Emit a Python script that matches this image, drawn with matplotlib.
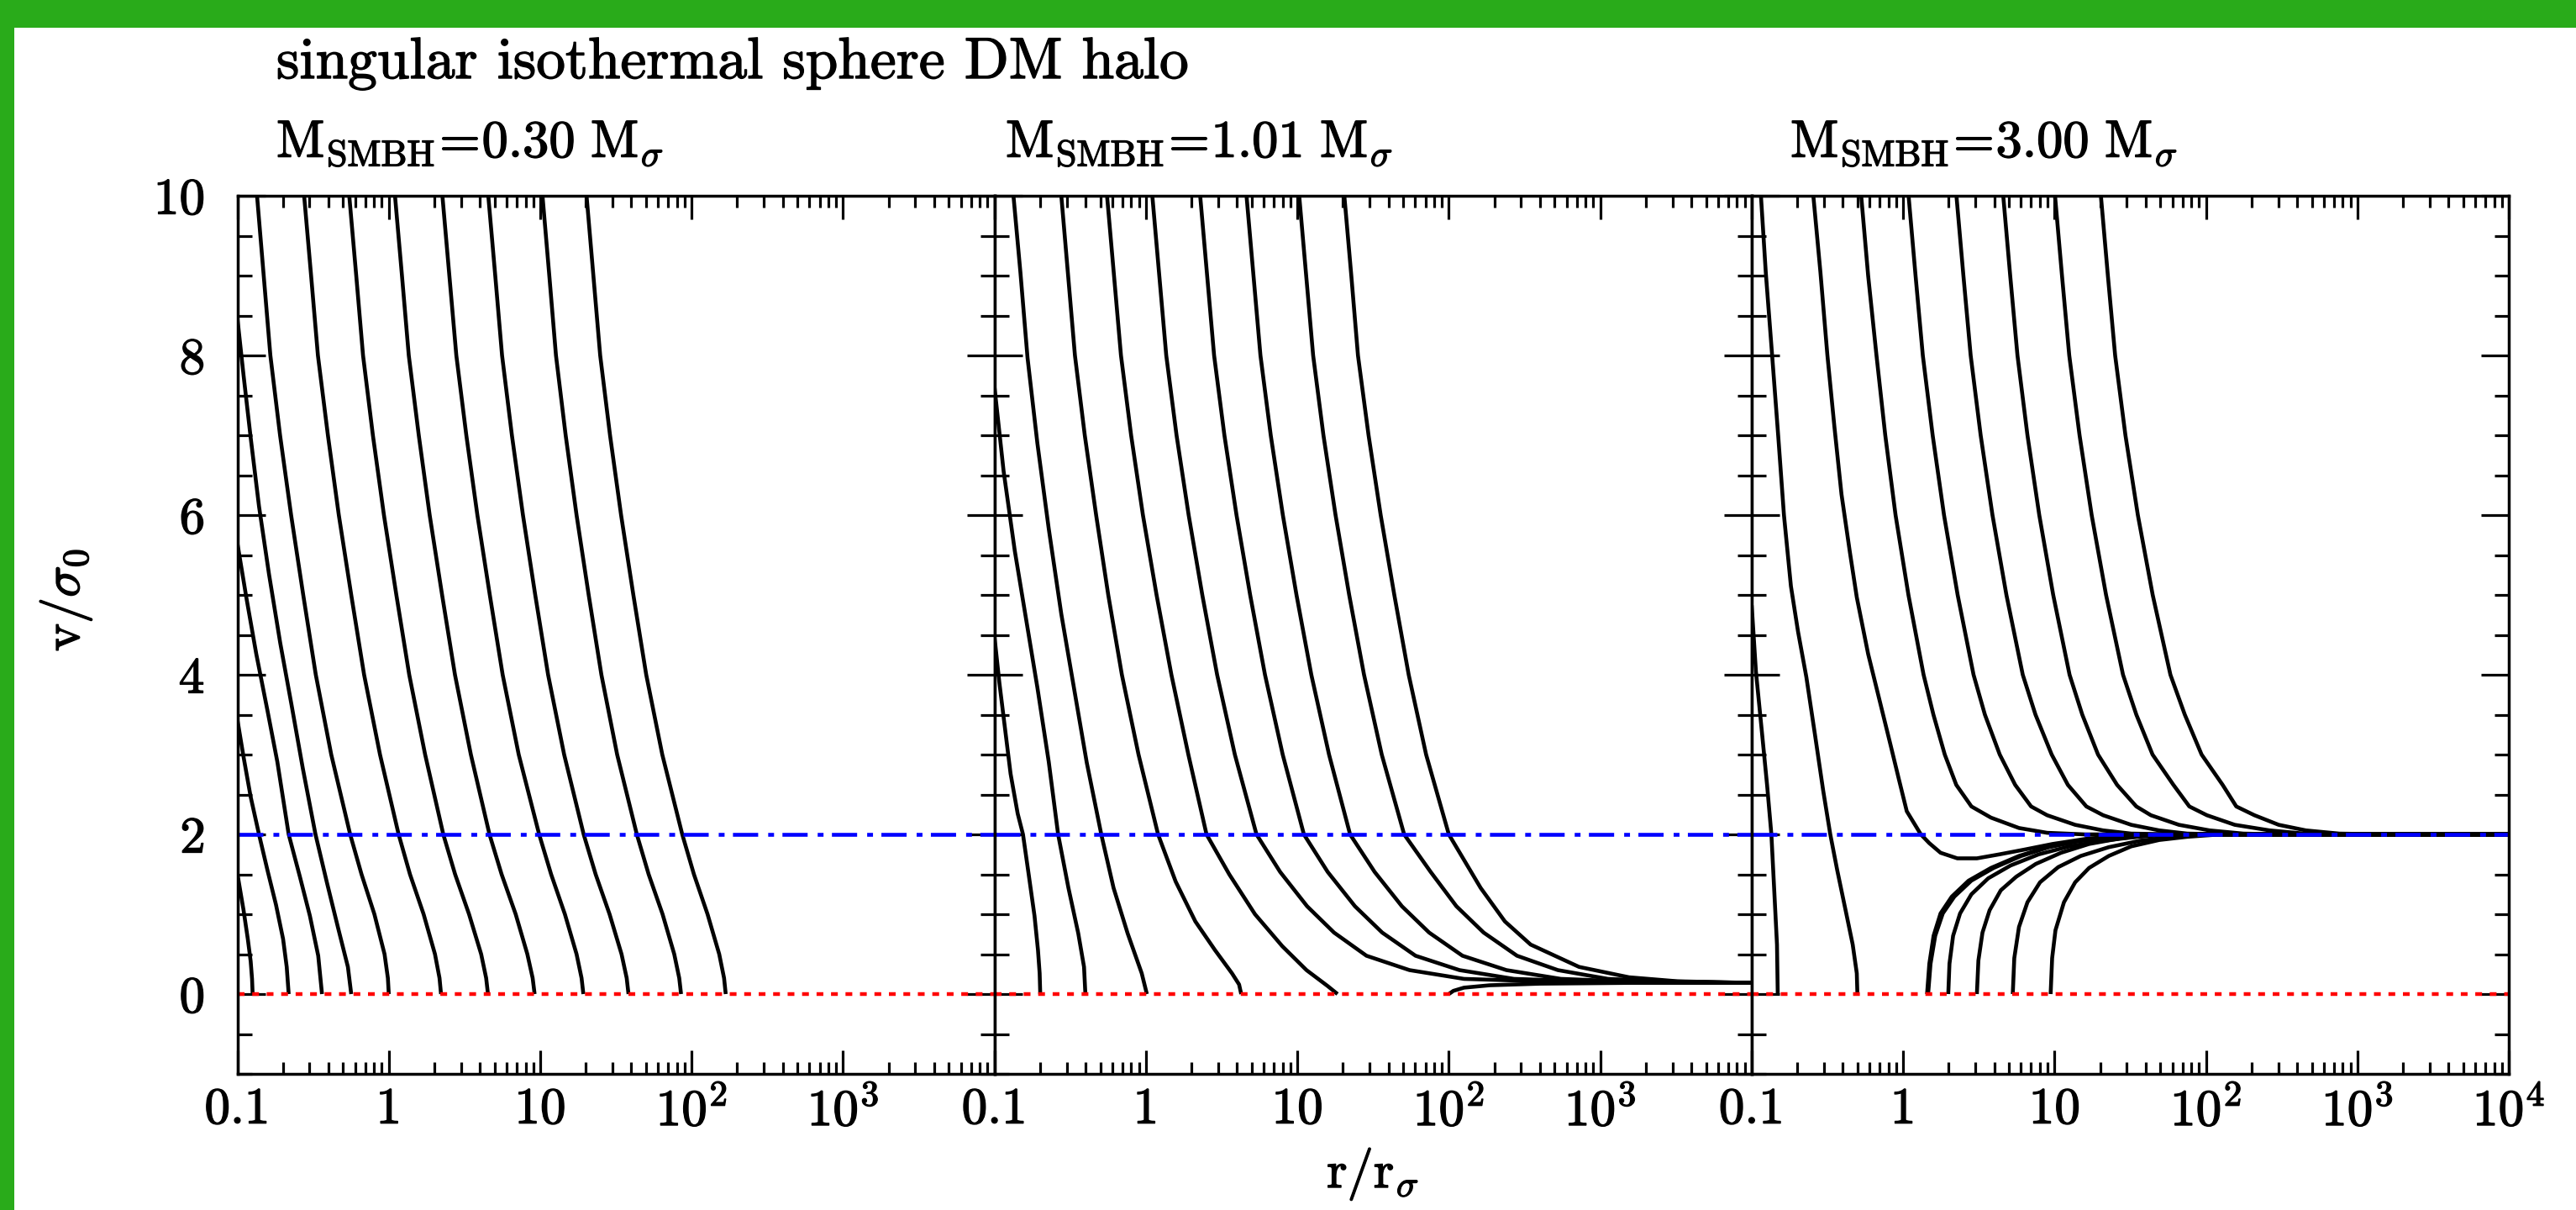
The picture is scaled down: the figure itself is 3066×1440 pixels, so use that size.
import numpy as np
import matplotlib
matplotlib.use("Agg")
import matplotlib.pyplot as plt
import matplotlib.patheffects as pe
from matplotlib.patches import Rectangle
from matplotlib.ticker import FixedLocator, FixedFormatter, NullFormatter, LogLocator, MultipleLocator

plt.rcParams['font.family'] = 'serif'
plt.rcParams['font.serif'] = ['cmr10', 'DejaVu Serif']
plt.rcParams['mathtext.fontset'] = 'cm'
plt.rcParams['axes.formatter.use_mathtext'] = True
plt.rcParams['lines.scale_dashes'] = False

# ---------------- data (log10 r / r_sigma , v / sigma_0) ----------------
panel_titles = [r'$\mathrm{M_{SMBH}\!=\!0.30\ M_{\sigma}}$',
                r'$\mathrm{M_{SMBH}\!=\!1.01\ M_{\sigma}}$',
                r'$\mathrm{M_{SMBH}\!=\!3.00\ M_{\sigma}}$']
title = 'singular isothermal sphere DM halo'
xtick_vals = [0.1, 1, 10, 100, 1000, 10000]
xtick_labels = ['0.1', '1', '10', r'$10^2$', r'$10^3$', r'$10^4$']
ytick_vals = [0, 2, 4, 6, 8, 10]
v_esc_level = 2.0
v_zero_level = 0.0

# Panel 1 : M_SMBH = 0.30
p1_L1_lx = [-1.0, -0.959, -0.931, -0.912, -0.903, -0.899]
p1_L1_v = [1.51, 1.05, 0.69, 0.41, 0.19, 0.0]
p1_L2_lx = [-1.0, -0.959, -0.912, -0.857, -0.801, -0.745, -0.698, -0.674, -0.661]
p1_L2_v = [3.44, 2.97, 2.47, 2.0, 1.55, 1.12, 0.69, 0.34, 0.0]
p1_L3_lx = [-1.0, -0.940, -0.875, -0.801, -0.736, -0.661, -0.587, -0.521, -0.466, -0.441]
p1_L3_v = [5.65, 4.96, 4.26, 3.55, 2.91, 2.0, 1.47, 0.98, 0.48, 0.0]
p1_L4_lx = [-1.0, -0.959, -0.912, -0.857, -0.791, -0.717, -0.642, -0.568, -0.484, -0.409, -0.335, -0.270, -0.248]
p1_L4_v = [8.47, 7.75, 6.97, 6.11, 5.26, 4.40, 3.62, 2.83, 2.0, 1.40, 0.83, 0.34, 0.0]
p1_T_v = [10, 9, 8, 7, 6, 5, 4, 3, 2, 1.5, 1, 0.5, 0.2, 0]
p1_T1_lx = [-0.870, -0.826, -0.782, -0.718, -0.645, -0.565, -0.482, -0.380, -0.255, -0.180, -0.095, -0.028, -0.006, 0.000]
p1_T2_lx = [-0.559, -0.513, -0.468, -0.402, -0.330, -0.248, -0.163, -0.058, 0.065, 0.140, 0.230, 0.305, 0.335, 0.345]
p1_T3_lx = [-0.261, -0.215, -0.170, -0.105, -0.032, 0.050, 0.135, 0.240, 0.360, 0.438, 0.530, 0.610, 0.643, 0.655]
p1_T4_lx = [0.041, 0.087, 0.132, 0.198, 0.270, 0.352, 0.437, 0.542, 0.665, 0.745, 0.838, 0.915, 0.950, 0.963]
p1_T5_lx = [0.354, 0.400, 0.446, 0.512, 0.585, 0.667, 0.752, 0.858, 0.993, 1.072, 1.163, 1.240, 1.273, 1.285]
p1_T6_lx = [0.657, 0.703, 0.748, 0.813, 0.886, 0.967, 1.052, 1.158, 1.287, 1.366, 1.458, 1.537, 1.571, 1.583]
p1_T7_lx = [1.015, 1.060, 1.104, 1.168, 1.240, 1.320, 1.404, 1.508, 1.638, 1.716, 1.808, 1.885, 1.918, 1.930]
p1_T8_lx = [1.306, 1.351, 1.396, 1.461, 1.534, 1.615, 1.700, 1.806, 1.938, 2.015, 2.105, 2.182, 2.214, 2.225]

# Panel 2 : M_SMBH = 1.01
p2_L1_lx = [-1.0, -0.968, -0.931, -0.894, -0.847, -0.812, -0.773, -0.736, -0.713, -0.702, -0.698]
p2_L1_v = [4.47, 3.90, 3.33, 2.76, 2.26, 2.0, 1.48, 0.98, 0.55, 0.26, 0.0]
p2_L2_lx = [-1.0, -0.940, -0.866, -0.791, -0.717, -0.642, -0.580, -0.512, -0.447, -0.409, -0.400]
p2_L2_v = [7.60, 6.55, 5.55, 4.69, 3.84, 2.91, 2.0, 1.33, 0.76, 0.34, 0.0]
p2_T1_v = [10, 9.04, 7.97, 6.90, 5.83, 4.76, 3.83, 2.90, 2.0, 1.33, 0.76, 0.26, 0]
p2_T1_lx = [-0.875, -0.829, -0.782, -0.717, -0.642, -0.559, -0.475, -0.391, -0.295, -0.214, -0.121, -0.028, 0.006]
p2_T2_v = [10, 9, 8, 7, 6, 5, 4, 3, 2, 1.41, 0.91, 0.55, 0.26, 0.12, 0]
p2_T2_lx = [-0.559, -0.514, -0.469, -0.404, -0.329, -0.249, -0.159, -0.049, 0.080, 0.196, 0.326, 0.456, 0.568, 0.615, 0.629]
p2_T3_v = [10, 9, 8, 7, 6, 5, 4, 3, 2, 1.5, 1.0, 0.6, 0.3, 0.1, 0]
p2_T3_lx = [-0.257, -0.211, -0.165, -0.098, -0.020, 0.070, 0.168, 0.280, 0.400, 0.55, 0.72, 0.90, 1.06, 1.20, 1.265]
p2_Tb_v = [10, 9, 8, 7, 6, 5, 4, 3, 2, 1.53, 1.10, 0.77, 0.48, 0.30, 0.19, 0.16, 0.14]
p2_T4_lx = [0.042, 0.088, 0.134, 0.202, 0.282, 0.372, 0.470, 0.587, 0.730, 0.886, 1.064, 1.242, 1.456, 1.74, 2.10, 2.6, 4.0]
p2_T5_lx = [0.358, 0.404, 0.450, 0.518, 0.598, 0.688, 0.786, 0.903, 1.043, 1.20, 1.38, 1.56, 1.78, 2.07, 2.43, 2.9, 4.0]
p2_T6_lx = [0.664, 0.710, 0.756, 0.824, 0.904, 0.994, 1.092, 1.209, 1.348, 1.51, 1.69, 1.87, 2.09, 2.38, 2.74, 3.15, 4.0]
p2_T7_lx = [1.012, 1.058, 1.104, 1.172, 1.252, 1.342, 1.440, 1.557, 1.705, 1.88, 2.05, 2.23, 2.45, 2.72, 3.05, 3.4, 4.0]
p2_T8_v = [10, 9, 8, 7, 6, 5, 4, 3, 2, 1.33, 0.91, 0.62, 0.34, 0.21, 0.16, 0.14]
p2_T8_lx = [1.31, 1.356, 1.40, 1.47, 1.55, 1.64, 1.735, 1.85, 2.0, 2.21, 2.37, 2.54, 2.86, 3.19, 3.51, 4.0]
p2_H_lx = [2.0, 2.03, 2.10, 2.27, 2.6, 3.2, 4.0]
p2_H_v = [0.0, 0.04, 0.08, 0.11, 0.13, 0.14, 0.14]

# Panel 3 : M_SMBH = 3.00
p3_L1_lx = [-1.0, -0.972, -0.935, -0.898, -0.870, -0.852, -0.833, -0.828]
p3_L1_v = [4.87, 4.04, 3.33, 2.61, 2.0, 1.33, 0.62, 0.0]
p3_T1_v = [10, 9.04, 8, 6.97, 6.0, 5.11, 4.54, 3.97, 3.26, 2.55, 2.0, 1.55, 1.05, 0.62, 0.26, 0]
p3_T1_lx = [-0.939, -0.907, -0.865, -0.824, -0.787, -0.741, -0.694, -0.639, -0.583, -0.528, -0.481, -0.435, -0.380, -0.333, -0.306, -0.302]
p3_T2_v = [10, 9.04, 8, 7.11, 6.26, 5.54, 4.97, 4.26, 3.69, 3.12, 2.69, 2.29, 2.0, 1.89, 1.77, 1.70,
           1.70, 1.75, 1.81, 1.88, 1.95, 1.98, 2.0, 2.0]
p3_T2_lx = [-0.593, -0.546, -0.5, -0.454, -0.407, -0.352, -0.306, -0.231, -0.157, -0.083, -0.028, 0.024, 0.117,
            0.173, 0.247, 0.358, 0.487, 0.636, 0.802, 0.987, 1.228, 1.506, 1.784, 4.0]
p3_T3_v = [10, 9, 8, 7, 6, 5, 4, 3.5, 3, 2.62, 2.35, 2.21, 2.08, 2.02, 2.0, 2.0]
p3_T3_lx = [-0.277, -0.231, -0.176, -0.118, -0.050, 0.035, 0.135, 0.200, 0.275, 0.351, 0.451, 0.580, 0.765, 0.951, 1.2, 4.0]
p3_Tb_v = [10, 9, 8, 7, 6, 5, 4, 3.5, 3, 2.62, 2.35, 2.24, 2.12, 2.05, 2.01, 2.0, 2.0]
p3_T4_lx = [0.036, 0.082, 0.130, 0.195, 0.270, 0.360, 0.465, 0.540, 0.638, 0.740, 0.845, 0.951, 1.136, 1.321, 1.506, 1.8, 4.0]
p3_T5_lx = [0.352, 0.398, 0.446, 0.512, 0.590, 0.682, 0.790, 0.874, 0.981, 1.088, 1.210, 1.321, 1.506, 1.691, 1.876, 2.15, 4.0]
p3_T6_lx = [0.661, 0.707, 0.755, 0.821, 0.899, 0.991, 1.099, 1.183, 1.287, 1.413, 1.540, 1.636, 1.821, 2.024, 2.247, 2.5, 4.0]
p3_T7_lx = [1.003, 1.049, 1.097, 1.165, 1.245, 1.340, 1.452, 1.540, 1.647, 1.785, 1.890, 2.006, 2.190, 2.420, 2.650, 2.9, 4.0]
p3_T8_lx = [1.306, 1.352, 1.400, 1.468, 1.550, 1.648, 1.765, 1.860, 1.971, 2.110, 2.200, 2.320, 2.480, 2.660, 2.880, 3.2, 4.0]
p3_B1_v = [0, 0.38, 0.73, 1.01, 1.22, 1.42, 1.58, 1.73, 1.84, 1.91, 1.96, 1.98, 2.0, 2.0]
p3_B1_lx = [0.158, 0.173, 0.201, 0.247, 0.321, 0.432, 0.580, 0.765, 0.951, 1.136, 1.321, 1.506, 1.691, 4.0]
p3_B1b_lx = [0.165, 0.181, 0.212, 0.262, 0.338, 0.450, 0.598, 0.780, 0.963, 1.145, 1.327, 1.510, 1.700, 4.0]
p3_B2_v = [0, 0.38, 0.73, 1.01, 1.25, 1.45, 1.61, 1.75, 1.85, 1.92, 1.97, 2.0, 2.0]
p3_B2_lx = [0.298, 0.306, 0.330, 0.376, 0.451, 0.562, 0.709, 0.895, 1.098, 1.321, 1.543, 1.784, 4.0]
p3_B3_v = [0, 0.42, 0.77, 1.05, 1.30, 1.47, 1.63, 1.77, 1.88, 1.95, 1.99, 2.0, 2.0]
p3_B3_lx = [0.487, 0.497, 0.524, 0.571, 0.645, 0.747, 0.876, 1.043, 1.228, 1.432, 1.654, 1.876, 4.0]
p3_B4_v = [0, 0.45, 0.84, 1.15, 1.40, 1.59, 1.73, 1.84, 1.92, 1.97, 2.0, 2.0]
p3_B4_lx = [0.724, 0.734, 0.765, 0.821, 0.904, 1.024, 1.173, 1.358, 1.562, 1.784, 2.024, 4.0]
p3_B5_v = [0, 0.45, 0.80, 1.15, 1.40, 1.58, 1.73, 1.85, 1.93, 1.97, 2.0, 2.0]
p3_B5_lx = [0.974, 0.984, 1.006, 1.062, 1.136, 1.228, 1.358, 1.506, 1.691, 1.876, 2.098, 4.0]

panels = [
    [(p1_L1_lx, p1_L1_v), (p1_L2_lx, p1_L2_v), (p1_L3_lx, p1_L3_v), (p1_L4_lx, p1_L4_v),
     (p1_T1_lx, p1_T_v), (p1_T2_lx, p1_T_v), (p1_T3_lx, p1_T_v), (p1_T4_lx, p1_T_v),
     (p1_T5_lx, p1_T_v), (p1_T6_lx, p1_T_v), (p1_T7_lx, p1_T_v), (p1_T8_lx, p1_T_v)],
    [(p2_L1_lx, p2_L1_v), (p2_L2_lx, p2_L2_v), (p2_T1_lx, p2_T1_v), (p2_T2_lx, p2_T2_v),
     (p2_T3_lx, p2_T3_v), (p2_T4_lx, p2_Tb_v), (p2_T5_lx, p2_Tb_v), (p2_T6_lx, p2_Tb_v),
     (p2_T7_lx, p2_Tb_v), (p2_T8_lx, p2_T8_v), (p2_H_lx, p2_H_v)],
    [(p3_L1_lx, p3_L1_v), (p3_T1_lx, p3_T1_v), (p3_T2_lx, p3_T2_v), (p3_T3_lx, p3_T3_v),
     (p3_T4_lx, p3_Tb_v), (p3_T5_lx, p3_Tb_v), (p3_T6_lx, p3_Tb_v), (p3_T7_lx, p3_Tb_v),
     (p3_T8_lx, p3_Tb_v), (p3_B1_lx, p3_B1_v), (p3_B1b_lx, p3_B1_v), (p3_B2_lx, p3_B2_v),
     (p3_B3_lx, p3_B3_v), (p3_B4_lx, p3_B4_v), (p3_B5_lx, p3_B5_v)],
]

# ---------------- figure ----------------
W, H = 3066, 1440
fig = plt.figure(figsize=(W / 100, H / 100), dpi=100)
fig.patch.set_facecolor('white')
green = '#29ab1a'
fig.patches.append(Rectangle((0, 1 - 33 / H), 1, 33 / H, transform=fig.transFigure,
                             facecolor=green, edgecolor='none', zorder=0))
fig.patches.append(Rectangle((0, 0), 17 / W, 1, transform=fig.transFigure,
                             facecolor=green, edgecolor='none', zorder=0))

left0 = 282.5 / W
pw = 901.2 / W
bottom = 1 - 1278 / H
ph = (1278 - 233) / H
FS_TICK = 44
FS_TXT = 45
FS_TITLE = 50
bold = [pe.withStroke(linewidth=1.0, foreground='black')]

for i, curves in enumerate(panels):
    ax = fig.add_axes([left0 + i * pw, bottom, pw, ph])
    ax.set_xscale('log')
    for lx, v in curves:
        ax.plot(10 ** np.asarray(lx, dtype=float), v, color='black', lw=3.3,
                solid_joinstyle='round', solid_capstyle='butt', zorder=2)
    ax.axhline(v_esc_level, color='#0000ff', lw=3.3, dashes=(21.6, 8.6, 5.0, 7.2), zorder=3)
    ax.axhline(v_zero_level, color='#ff0000', lw=3.2, dashes=(5.8, 6.6), zorder=3)
    ax.set_xlim(0.1, 1e4)
    ax.set_ylim(-1, 10)

    ax.xaxis.set_major_locator(FixedLocator(xtick_vals))
    labs = list(xtick_labels)
    if i < 2:
        labs[-1] = ''
    ax.xaxis.set_major_formatter(FixedFormatter(labs))
    ax.xaxis.set_minor_locator(LogLocator(base=10, subs=np.arange(2, 10), numticks=30))
    ax.xaxis.set_minor_formatter(NullFormatter())
    ax.yaxis.set_major_locator(FixedLocator(ytick_vals))
    ax.yaxis.set_minor_locator(MultipleLocator(0.5))

    ax.tick_params(which='both', direction='in', top=True, right=True, width=2.3, color='black')
    ax.tick_params(axis='x', which='major', length=20, pad=11, labelsize=FS_TICK)
    ax.tick_params(axis='x', which='minor', length=10)
    ax.tick_params(axis='y', which='major', length=24, pad=28, labelsize=FS_TICK)
    ax.tick_params(axis='y', which='minor', length=12)
    if i > 0:
        ax.tick_params(axis='y', labelleft=False)
    for lab in ax.get_xticklabels() + ax.get_yticklabels():
        lab.set_path_effects(bold)
    for s in ax.spines.values():
        s.set_linewidth(2.5)
        s.set_zorder(4)

fig.text(329 / W, 1 - 93 / H, title, fontsize=FS_TITLE, ha='left', va='baseline',
         path_effects=bold)
for xpix, t in zip([329, 1197, 2131], panel_titles):
    fig.text(xpix / W, 1 - 187 / H, t, fontsize=FS_TXT, ha='left', va='baseline',
             path_effects=bold)
fig.text(1634 / W, 1 - 1413 / H, r'$\mathrm{r}/\mathrm{r}_{\sigma}$', fontsize=FS_TXT,
         ha='center', va='baseline', path_effects=bold)
fig.text(78 / W, 1 - 714 / H, r'$\mathrm{v}/\sigma_0$', fontsize=FS_TXT, rotation=90,
         ha='center', va='center', path_effects=bold)

fig.savefig('out.png', dpi=100, facecolor='white')
